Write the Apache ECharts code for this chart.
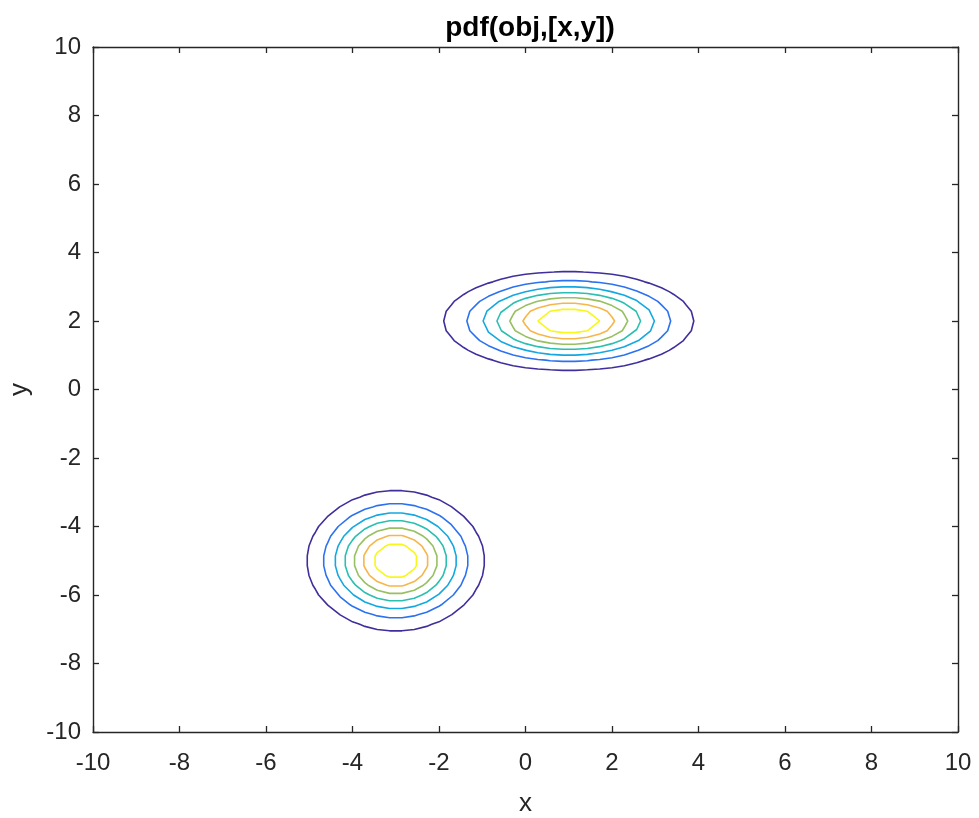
<!DOCTYPE html>
<html><head><meta charset="utf-8">
<script src="https://cdn.jsdelivr.net/npm/echarts@6/dist/echarts.min.js"></script>
<style>html,body{margin:0;padding:0;background:#fff}#c{width:979px;height:818px}</style>
</head><body><div id="c"></div>
<script>
// Gaussian mixture model (obj) parameters
const means = [[1, 2], [-3, -5]];
const varX = [2, 1];
const varY = [0.5, 1];
const weights = [0.5, 0.5];
// contour levels and their colours (parula)
const levels = [0.01, 0.02, 0.03, 0.04, 0.05, 0.06, 0.07];
const levelColors = ['#3e2f9c', '#2c72f0', '#14a8e0', '#2abfb0', '#98c062', '#f6b64a', '#f7f71a'];
// axes
const xRange = [-10, 10];
const yRange = [-10, 10];
const tickStep = 2;
const meshDensity = 71;

function pdf(x, y) {
  let s = 0;
  for (let k = 0; k < means.length; k++) {
    const dx = x - means[k][0], dy = y - means[k][1];
    s += weights[k] * Math.exp(-0.5 * (dx * dx / varX[k] + dy * dy / varY[k])) / (2 * Math.PI * Math.sqrt(varX[k] * varY[k]));
  }
  return s;
}

const N = meshDensity;
const xs = [], ys = [];
for (let i = 0; i < N; i++) {
  xs.push(xRange[0] + (xRange[1] - xRange[0]) * i / (N - 1));
  ys.push(yRange[0] + (yRange[1] - yRange[0]) * i / (N - 1));
}
const Z = ys.map(y => xs.map(x => pdf(x, y)));

function contourLines(L) {
  const pts = {}, segs = [];
  function ep(key, x1, y1, z1, x2, y2, z2) {
    if (!pts[key]) { const t = (L - z1) / (z2 - z1); pts[key] = [x1 + t * (x2 - x1), y1 + t * (y2 - y1)]; }
    return key;
  }
  for (let j = 0; j < N - 1; j++) {
    for (let i = 0; i < N - 1; i++) {
      const a = Z[j][i], b = Z[j][i + 1], c = Z[j + 1][i + 1], d = Z[j + 1][i];
      const e = [];
      if ((a >= L) !== (b >= L)) e.push(ep('h' + i + ',' + j, xs[i], ys[j], a, xs[i + 1], ys[j], b));
      if ((b >= L) !== (c >= L)) e.push(ep('v' + (i + 1) + ',' + j, xs[i + 1], ys[j], b, xs[i + 1], ys[j + 1], c));
      if ((d >= L) !== (c >= L)) e.push(ep('h' + i + ',' + (j + 1), xs[i], ys[j + 1], d, xs[i + 1], ys[j + 1], c));
      if ((a >= L) !== (d >= L)) e.push(ep('v' + i + ',' + j, xs[i], ys[j], a, xs[i], ys[j + 1], d));
      if (e.length === 2) segs.push([e[0], e[1]]);
      else if (e.length === 4) { segs.push([e[0], e[3]]); segs.push([e[1], e[2]]); }
    }
  }
  const adj = {};
  segs.forEach((s, k) => { (adj[s[0]] = adj[s[0]] || []).push(k); (adj[s[1]] = adj[s[1]] || []).push(k); });
  const used = new Array(segs.length).fill(false);
  const lines = [];
  for (let k = 0; k < segs.length; k++) {
    if (used[k]) continue;
    used[k] = true;
    const chain = [segs[k][0], segs[k][1]];
    let cur = segs[k][1];
    while (true) {
      const nk = (adj[cur] || []).find(m => !used[m]);
      if (nk === undefined) break;
      used[nk] = true;
      cur = segs[nk][0] === cur ? segs[nk][1] : segs[nk][0];
      chain.push(cur);
    }
    cur = segs[k][0];
    while (true) {
      const nk = (adj[cur] || []).find(m => !used[m]);
      if (nk === undefined) break;
      used[nk] = true;
      cur = segs[nk][0] === cur ? segs[nk][1] : segs[nk][0];
      chain.unshift(cur);
    }
    lines.push(chain.map(key => pts[key]));
  }
  return lines;
}

const series = [];
levels.forEach((L, li) => {
  contourLines(L).forEach(line => {
    series.push({
      type: 'line', data: line, showSymbol: false, symbol: 'none', silent: true,
      xAxisIndex: 0, yAxisIndex: 0, smooth: false,
      lineStyle: { color: levelColors[li], width: 1.6 }
    });
  });
});

const axisColor = '#262626';
const font = 'Liberation Sans, Arial, Helvetica, sans-serif';
function baseAxis(extra) {
  return Object.assign({
    type: 'value', interval: tickStep,
    axisLine: { show: true, onZero: false, lineStyle: { color: axisColor, width: 1.4 } },
    axisTick: { show: true, inside: true, length: 6, lineStyle: { color: axisColor, width: 1.3 } },
    splitLine: { show: false }
  }, extra);
}

const chart = echarts.init(document.getElementById('c'), null, { renderer: 'canvas' });
chart.setOption({
  animation: false,
  backgroundColor: '#fff',
  title: {
    text: 'pdf(obj,[x,y])', left: 525, textAlign: 'center', top: 9,
    textStyle: { fontFamily: font, fontSize: 28, fontWeight: 'bold', color: '#000' }
  },
  grid: { left: 93, right: 21, top: 47, bottom: 86, containLabel: false, outerBoundsMode: 'none' },
  xAxis: [
    baseAxis({ min: xRange[0], max: xRange[1], position: 'bottom', name: 'x', nameLocation: 'middle', nameGap: 59,
      nameTextStyle: { fontFamily: font, fontSize: 26, color: axisColor },
      axisLabel: { fontFamily: font, fontSize: 24, color: axisColor, margin: 19 } }),
    baseAxis({ min: xRange[0], max: xRange[1], position: 'top', axisLabel: { show: false } })
  ],
  yAxis: [
    baseAxis({ min: yRange[0], max: yRange[1], position: 'left', name: 'y', nameLocation: 'middle', nameGap: 60,
      nameTextStyle: { fontFamily: font, fontSize: 26, color: axisColor },
      axisLabel: { fontFamily: font, fontSize: 24, color: axisColor, margin: 12, padding: [6, 0, 0, 0] } }),
    baseAxis({ min: yRange[0], max: yRange[1], position: 'right', axisLabel: { show: false } })
  ],
  series: series
});
</script></body></html>
